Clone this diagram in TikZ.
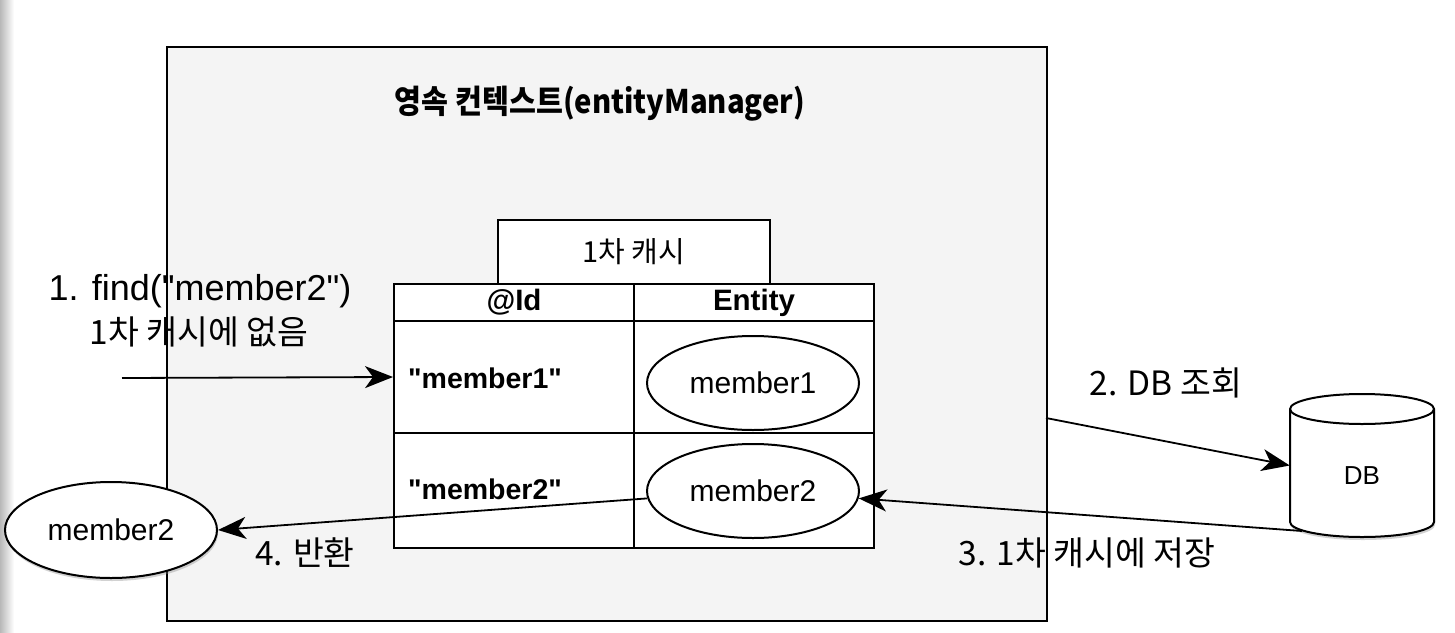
\documentclass[tikz,border=0pt]{standalone}
\usepackage{fontspec}
\setmainfont{Liberation Sans}[Ligatures=TeXOff]
\newfontfamily\kr{Noto Sans CJK KR}
\newfontfamily\krc[FakeStretch=0.9]{Noto Sans CJK KR}
\usetikzlibrary{shapes.geometric,arrows.meta,shadows,calc}
\definecolor{ctxfill}{HTML}{F4F4F4}
\begin{document}
\begin{tikzpicture}[x=1pt,y=-1pt,
  cell/.style={draw, line width=2pt, fill=white, inner sep=0pt},
  oval/.style={draw, ellipse, line width=2pt, fill=white, inner sep=0pt,
    minimum width=212pt, font=\fontsize{30}{33}\selectfont},
  idtxt/.style={anchor=west, inner sep=0pt, font=\bfseries\fontsize{28.5}{32}\selectfont},
  klbl/.style={anchor=base, inner sep=0pt, font=\kr\fontsize{33.5}{37}\selectfont},
  conn/.style={line width=1.8pt, -{Stealth[length=28pt,width=22pt,inset=8pt]}},
  shad/.style={drop shadow={opacity=0.35, shadow xshift=1pt, shadow yshift=-3pt}}]
\useasboundingbox (0,0) rectangle (1455,632);
\fill[white] (0,0) rectangle (1455,632);
\shade[left color=black!28, right color=white] (0,0) rectangle (14,632);

% persistence context
\node[draw, line width=2.4pt, fill=ctxfill, minimum width=880pt, minimum height=574pt,
  anchor=north west, inner sep=0pt] (pc) at (166,46) {};
\node[inner sep=0pt, font=\krc\bfseries\fontsize{32.5}{36}\selectfont] (title) at (600,104) {영속 컨텍스트(entityManager)};

% first-level cache
\node[cell, minimum width=272pt, minimum height=64pt, font=\kr\fontsize{29}{32}\selectfont] (cache) at (634,252) {1차 캐시};
\node[cell, minimum width=240pt, minimum height=37pt, font=\bfseries\fontsize{29.5}{32}\selectfont] (hId) at (514,302.5) {@Id};
\node[cell, minimum width=240pt, minimum height=37pt, font=\bfseries\fontsize{29.5}{32}\selectfont] (hEnt) at (754,302.5) {Entity};
\node[cell, minimum width=240pt, minimum height=112pt] (c11) at (514,377) {};
\node[cell, minimum width=240pt, minimum height=112pt] (c12) at (754,377) {};
\node[cell, minimum width=240pt, minimum height=115pt] (c21) at (514,490.5) {};
\node[cell, minimum width=240pt, minimum height=115pt] (c22) at (754,490.5) {};
\node[idtxt] (k1) at (408,378) {"member1"};
\node[idtxt] (k2) at (408,489) {"member2"};
\node[oval, minimum height=94pt] (m1) at (753,383) {member1};
\node[oval, minimum height=94pt] (m2) at (753,491) {member2};

% returned entity
\node[oval, shad, minimum height=96pt] (lm) at (111,530) {member2};

% DB cylinder
\path[draw, line width=2pt, fill=white, shad] (1290,409) -- (1290,522)
  arc[start angle=180, end angle=360, x radius=72pt, y radius=15pt] -- (1434,409)
  arc[start angle=0, end angle=180, x radius=72pt, y radius=15pt] -- cycle;
\draw[line width=2pt] (1290,409) arc[start angle=180, end angle=360, x radius=72pt, y radius=15pt];
\node[minimum width=144pt, minimum height=143pt, inner sep=0pt] (db) at (1362,465.5) {};
\node[inner sep=0pt, font=\fontsize{26}{30}\selectfont] (dbt) at (1362,476) {DB};

% connectors
\coordinate (src) at (122,378);
\coordinate (a2s) at (1046,418);
\coordinate (db3) at (1302,531);
\draw[conn] (src) -- (c11.west);
\draw[conn] (a2s) -- (db.west);
\draw[conn] (db3) -- (m2.-4);
\draw[conn] (m2.184) -- (lm.east);

% labels
\node[anchor=base, inner sep=0pt, font=\fontsize{36}{40}\selectfont] (t1a) at (200,300) {1. find("member2")};
\node[klbl] (t1b) at (199,344) {1차 캐시에 없음};
\node[klbl] (t2) at (1166,395) {2. DB 조회};
\node[klbl] (t3) at (1087,565) {3. 1차 캐시에 저장};
\node[klbl] (t4) at (305,565) {4. 반환};
\end{tikzpicture}
\end{document}
